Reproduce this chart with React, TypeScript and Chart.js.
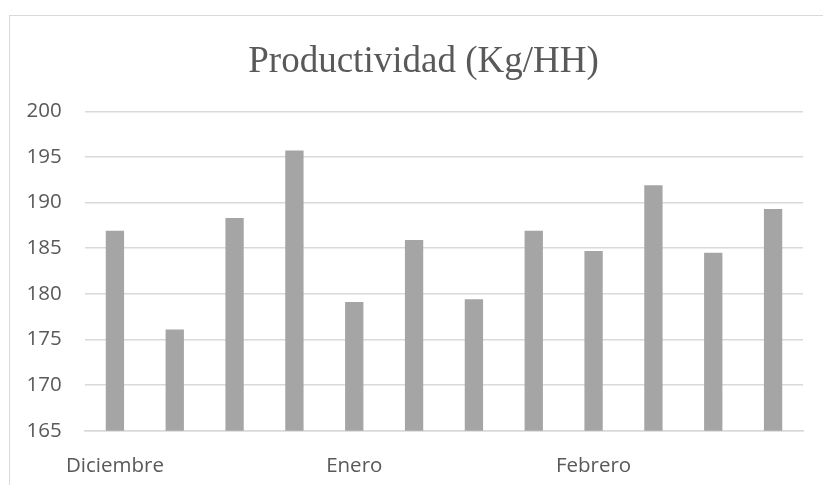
import React, { useEffect, useRef } from "react";
import { Chart, registerables } from "chart.js";

Chart.register(...registerables);

// Monthly productivity, kilograms per man-hour
const categories = [
  "Diciembre", "", "", "",
  "Enero", "", "", "",
  "Febrero", "", "", "",
];
const productividad = [186.9, 176.1, 188.3, 195.7, 179.1, 185.9, 179.4, 186.9, 184.7, 191.9, 184.5, 189.3];
const yMin = 165;
const yMax = 200;
const yStep = 5;

const TEXT = "#595959";
const GRID = "#d9d9d9";
const BAR = "#a5a5a5";
const SANS = "'Open Sans', 'Noto Sans', sans-serif";

export default function App() {
  const canvasRef = useRef<HTMLCanvasElement | null>(null);

  useEffect(() => {
    const canvas = canvasRef.current;
    if (!canvas) return;
    const chart = new Chart(canvas, {
      type: "bar",
      data: {
        labels: categories,
        datasets: [
          {
            label: "Productividad (Kg/HH)",
            data: productividad,
            backgroundColor: BAR,
            borderWidth: 0,
            barPercentage: 0.306,
            categoryPercentage: 1,
          },
        ],
      },
      options: {
        animation: false,
        responsive: true,
        maintainAspectRatio: false,
        layout: { padding: 0 },
        plugins: {
          legend: { display: false },
          tooltip: { enabled: false },
          title: {
            display: true,
            text: "Productividad (Kg/HH)",
            color: TEXT,
            font: { family: "'Liberation Serif', 'Times New Roman', serif", size: 37, weight: "normal", lineHeight: 1.2 },
            padding: { top: 24.5, bottom: 26.4 },
          },
        },
        scales: {
          x: {
            grid: { display: false, drawTicks: false },
            border: { display: true, color: GRID, width: 1.5 },
            ticks: {
              color: TEXT,
              font: { family: SANS, size: 20.5 },
              autoSkip: false,
              maxRotation: 0,
              minRotation: 0,
              padding: 23,
            },
            afterFit: (scale: any) => {
              scale.height = 65.3;
            },
          },
          y: {
            min: yMin,
            max: yMax,
            grid: { color: GRID, lineWidth: 1.5, drawTicks: false },
            border: { display: false },
            ticks: {
              stepSize: yStep,
              color: TEXT,
              font: { family: SANS, size: 20.5 },
              padding: 23.3,
            },
            afterFit: (scale: any) => {
              scale.width = 75;
            },
          },
          // empty right-hand margin of the plot area
          margin: {
            type: "linear",
            position: "right",
            display: true,
            grid: { display: false, drawTicks: false },
            border: { display: false },
            ticks: { display: false },
            afterFit: (scale: any) => {
              scale.width = 34;
            },
          },
        },
      },
    });
    return () => chart.destroy();
  }, []);

  return (
    <div style={{ position: "fixed", left: 0, top: 0, width: 823, height: 485, overflow: "hidden", background: "#ffffff" }}>
      <div
        style={{
          position: "absolute",
          left: 9,
          top: 15,
          width: 827,
          height: 480,
          borderTop: `1.5px solid ${GRID}`,
          borderLeft: `1.5px solid ${GRID}`,
          boxSizing: "content-box",
        }}
      >
        <canvas ref={canvasRef} />
      </div>
    </div>
  );
}
